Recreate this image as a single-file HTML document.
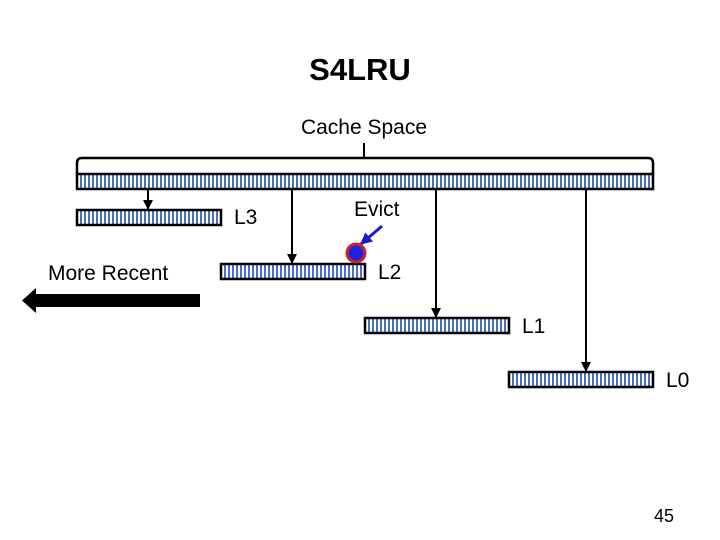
<!DOCTYPE html>
<html><head><meta charset="utf-8"><style>
html,body{margin:0;padding:0;background:#fff;}
svg{display:block;}
text{font-family:"Liberation Sans",Arial,sans-serif;fill:#000;}
</style></head><body>
<svg width="720" height="540" viewBox="0 0 720 540" xmlns="http://www.w3.org/2000/svg">
<defs>
<pattern id="st" width="4" height="10" patternUnits="userSpaceOnUse">
<rect width="4" height="10" fill="#fff"/>
<rect width="2" height="10" fill="#4a6fc0"/>
</pattern>
<marker id="ah" viewBox="0 0 10 10" refX="9" refY="5" markerWidth="5" markerHeight="5" orient="auto">
<path d="M0,0 L10,5 L0,10 z" fill="#000"/>
</marker>
<marker id="bh" viewBox="0 0 10 10" refX="9" refY="5" markerWidth="4" markerHeight="4" orient="auto">
<path d="M0,0 L10,5 L0,10 z" fill="#1a1ad0"/>
</marker>
</defs>
<text x="360" y="80" font-size="31" font-weight="bold" text-anchor="middle">S4LRU</text>
<text x="364" y="134" font-size="21" text-anchor="middle">Cache Space</text>
<line x1="364" y1="143" x2="364" y2="158" stroke="#000" stroke-width="2"/>
<path d="M77,174 L77,163 Q77,158 82,158 L648,158 Q653,158 653,163 L653,174" fill="none" stroke="#000" stroke-width="2.5"/>
<rect x="77" y="174" width="576" height="15" fill="url(#st)" stroke="#000" stroke-width="2.5"/>
<rect x="77" y="210" width="144" height="15" fill="url(#st)" stroke="#000" stroke-width="2.5"/>
<rect x="221" y="264" width="144" height="15" fill="url(#st)" stroke="#000" stroke-width="2.5"/>
<rect x="365" y="318" width="144" height="15" fill="url(#st)" stroke="#000" stroke-width="2.5"/>
<rect x="509" y="372" width="144" height="15" fill="url(#st)" stroke="#000" stroke-width="2.5"/>
<line x1="148" y1="189" x2="148" y2="209" stroke="#000" stroke-width="2" marker-end="url(#ah)"/>
<line x1="292" y1="189" x2="292" y2="263" stroke="#000" stroke-width="2" marker-end="url(#ah)"/>
<line x1="436" y1="189" x2="436" y2="317" stroke="#000" stroke-width="2" marker-end="url(#ah)"/>
<line x1="586" y1="189" x2="586" y2="371" stroke="#000" stroke-width="2" marker-end="url(#ah)"/>
<text x="234" y="224" font-size="21">L3</text>
<text x="378" y="279" font-size="21">L2</text>
<text x="522" y="333" font-size="21">L1</text>
<text x="666" y="387" font-size="21">L0</text>
<text x="354" y="216" font-size="21">Evict</text>
<text x="48" y="280" font-size="21">More Recent</text>
<line x1="382" y1="226" x2="361" y2="244" stroke="#1a1ad0" stroke-width="3" marker-end="url(#bh)"/>
<circle cx="356" cy="253" r="9" fill="#2020e0" stroke="#d02030" stroke-width="3"/>
<rect x="34" y="294" width="166" height="13" fill="#000"/>
<path d="M22,300.5 L36,288 L36,313 z" fill="#000"/>
<text x="654" y="522" font-size="18">45</text>
</svg>
</body></html>
